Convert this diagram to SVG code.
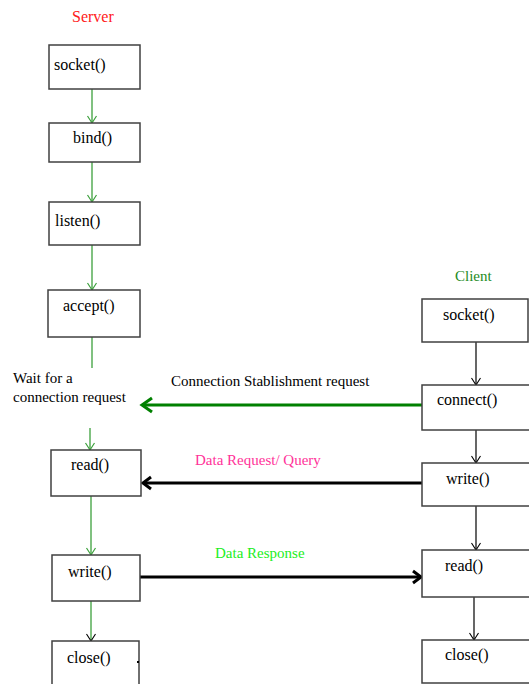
<svg xmlns="http://www.w3.org/2000/svg" width="529" height="684" viewBox="0 0 529 684">
<defs>
<style>
.box{fill:#fff;stroke:#404040;stroke-width:1.5}
.t{font-family:"Liberation Serif","Times New Roman",serif;font-size:15px;fill:#000}
.b{font-family:"Liberation Serif","Times New Roman",serif;font-size:16px;fill:#000}
.g{stroke:#3ca03c;stroke-width:1.3;fill:none}
.k{stroke:#000;stroke-width:1.2;fill:none}
.thick{stroke-width:3;fill:none}
</style>
<marker id="ag" markerUnits="userSpaceOnUse" orient="auto" markerWidth="12" markerHeight="12" refX="10" refY="6" viewBox="0 0 12 12" overflow="visible"><path d="M3,1.5 L10,6 L3,10.5" fill="none" stroke="#3ca03c" stroke-width="1.2"/></marker>
<marker id="ak" markerUnits="userSpaceOnUse" orient="auto" markerWidth="12" markerHeight="12" refX="10" refY="6" viewBox="0 0 12 12" overflow="visible"><path d="M3,1.5 L10,6 L3,10.5" fill="none" stroke="#000" stroke-width="1.1"/></marker>
<marker id="aG" markerUnits="userSpaceOnUse" orient="auto" markerWidth="14" markerHeight="16" refX="12" refY="8" viewBox="0 0 14 16" overflow="visible"><path d="M2,1 L12,8 L2,15" fill="none" stroke="#008000" stroke-width="3"/></marker>
<marker id="aK" markerUnits="userSpaceOnUse" orient="auto" markerWidth="14" markerHeight="16" refX="12" refY="8" viewBox="0 0 14 16" overflow="visible"><path d="M4,2 L12,8 L4,14" fill="none" stroke="#000" stroke-width="3"/></marker>
</defs>
<rect width="529" height="684" fill="#fff"/>
<text class="b" x="72" y="22" style="fill:#ff2020">Server</text>
<text class="t" x="455" y="281" style="fill:#1e8c1e">Client</text>
<g id="connectors">
<line class="g" x1="92" y1="89" x2="92" y2="123" marker-end="url(#ag)"/>
<line class="g" x1="92" y1="162" x2="92" y2="202" marker-end="url(#ag)"/>
<line class="g" x1="92" y1="245" x2="92" y2="290" marker-end="url(#ag)"/>
<line class="g" x1="92" y1="337" x2="92" y2="368"/>
<line class="g" x1="90" y1="428" x2="90" y2="450" marker-end="url(#ag)"/>
<line class="g" x1="91" y1="496" x2="91" y2="555" marker-end="url(#ag)"/>
<line class="g" x1="91" y1="601" x2="91" y2="641" marker-end="url(#ak)"/>
<line class="k" x1="476" y1="342" x2="476" y2="385" marker-end="url(#ak)"/>
<line class="k" x1="476" y1="430" x2="476" y2="463" marker-end="url(#ak)"/>
<line class="k" x1="476" y1="506" x2="476" y2="550" marker-end="url(#ak)"/>
<line class="k" x1="474" y1="597" x2="474" y2="640" marker-end="url(#ak)"/>
<line class="thick" stroke="#008000" x1="422" y1="405" x2="142" y2="405" marker-end="url(#aG)"/>
<line class="thick" stroke="#000" x1="422" y1="483" x2="143" y2="483" marker-end="url(#aK)"/>
<line class="thick" stroke="#000" x1="138" y1="577" x2="421" y2="577" marker-end="url(#aK)"/>
<text class="t" x="171" y="386">Connection Stablishment request</text>
<text class="t" x="195" y="465" style="fill:#ff3399">Data Request/ Query</text>
<text class="t" x="215" y="558" style="fill:#22ee22">Data Response</text>
</g>
<g id="wait">
<text class="t" x="13" y="383">Wait for a</text>
<text class="t" x="13" y="402">connection request</text>
</g>
<g id="s-socket"><rect class="box" x="49" y="45" width="91" height="44"/><text class="b" x="54" y="70">socket()</text></g>
<g id="s-bind"><rect class="box" x="49" y="123" width="91" height="39"/><text class="b" x="73" y="143">bind()</text></g>
<g id="s-listen"><rect class="box" x="49" y="202" width="91" height="43"/><text class="b" x="55" y="226">listen()</text></g>
<g id="s-accept"><rect class="box" x="48" y="290" width="92" height="47"/><text class="b" x="63" y="311">accept()</text></g>
<g id="s-read"><rect class="box" x="51" y="450" width="90" height="46"/><text class="b" x="71" y="470">read()</text></g>
<g id="s-write"><rect class="box" x="52" y="555" width="88" height="46"/><text class="b" x="68" y="577">write()</text></g>
<g id="s-close"><rect class="box" x="52" y="641" width="87" height="50"/><text class="b" x="67" y="663">close()</text><rect x="137" y="661" width="2" height="2" fill="#000"/></g>
<g id="c-socket"><rect class="box" x="422" y="299" width="106" height="43"/><text class="b" x="443" y="320">socket()</text></g>
<g id="c-connect"><rect class="box" x="422" y="385" width="110" height="45"/><text class="b" x="437" y="405">connect()</text></g>
<g id="c-write"><rect class="box" x="422" y="463" width="110" height="43"/><text class="b" x="446" y="484">write()</text></g>
<g id="c-read"><rect class="box" x="422" y="550" width="110" height="47"/><text class="b" x="445" y="571">read()</text></g>
<g id="c-close"><rect class="box" x="422" y="640" width="110" height="43"/><text class="b" x="445" y="660">close()</text></g>
</svg>
